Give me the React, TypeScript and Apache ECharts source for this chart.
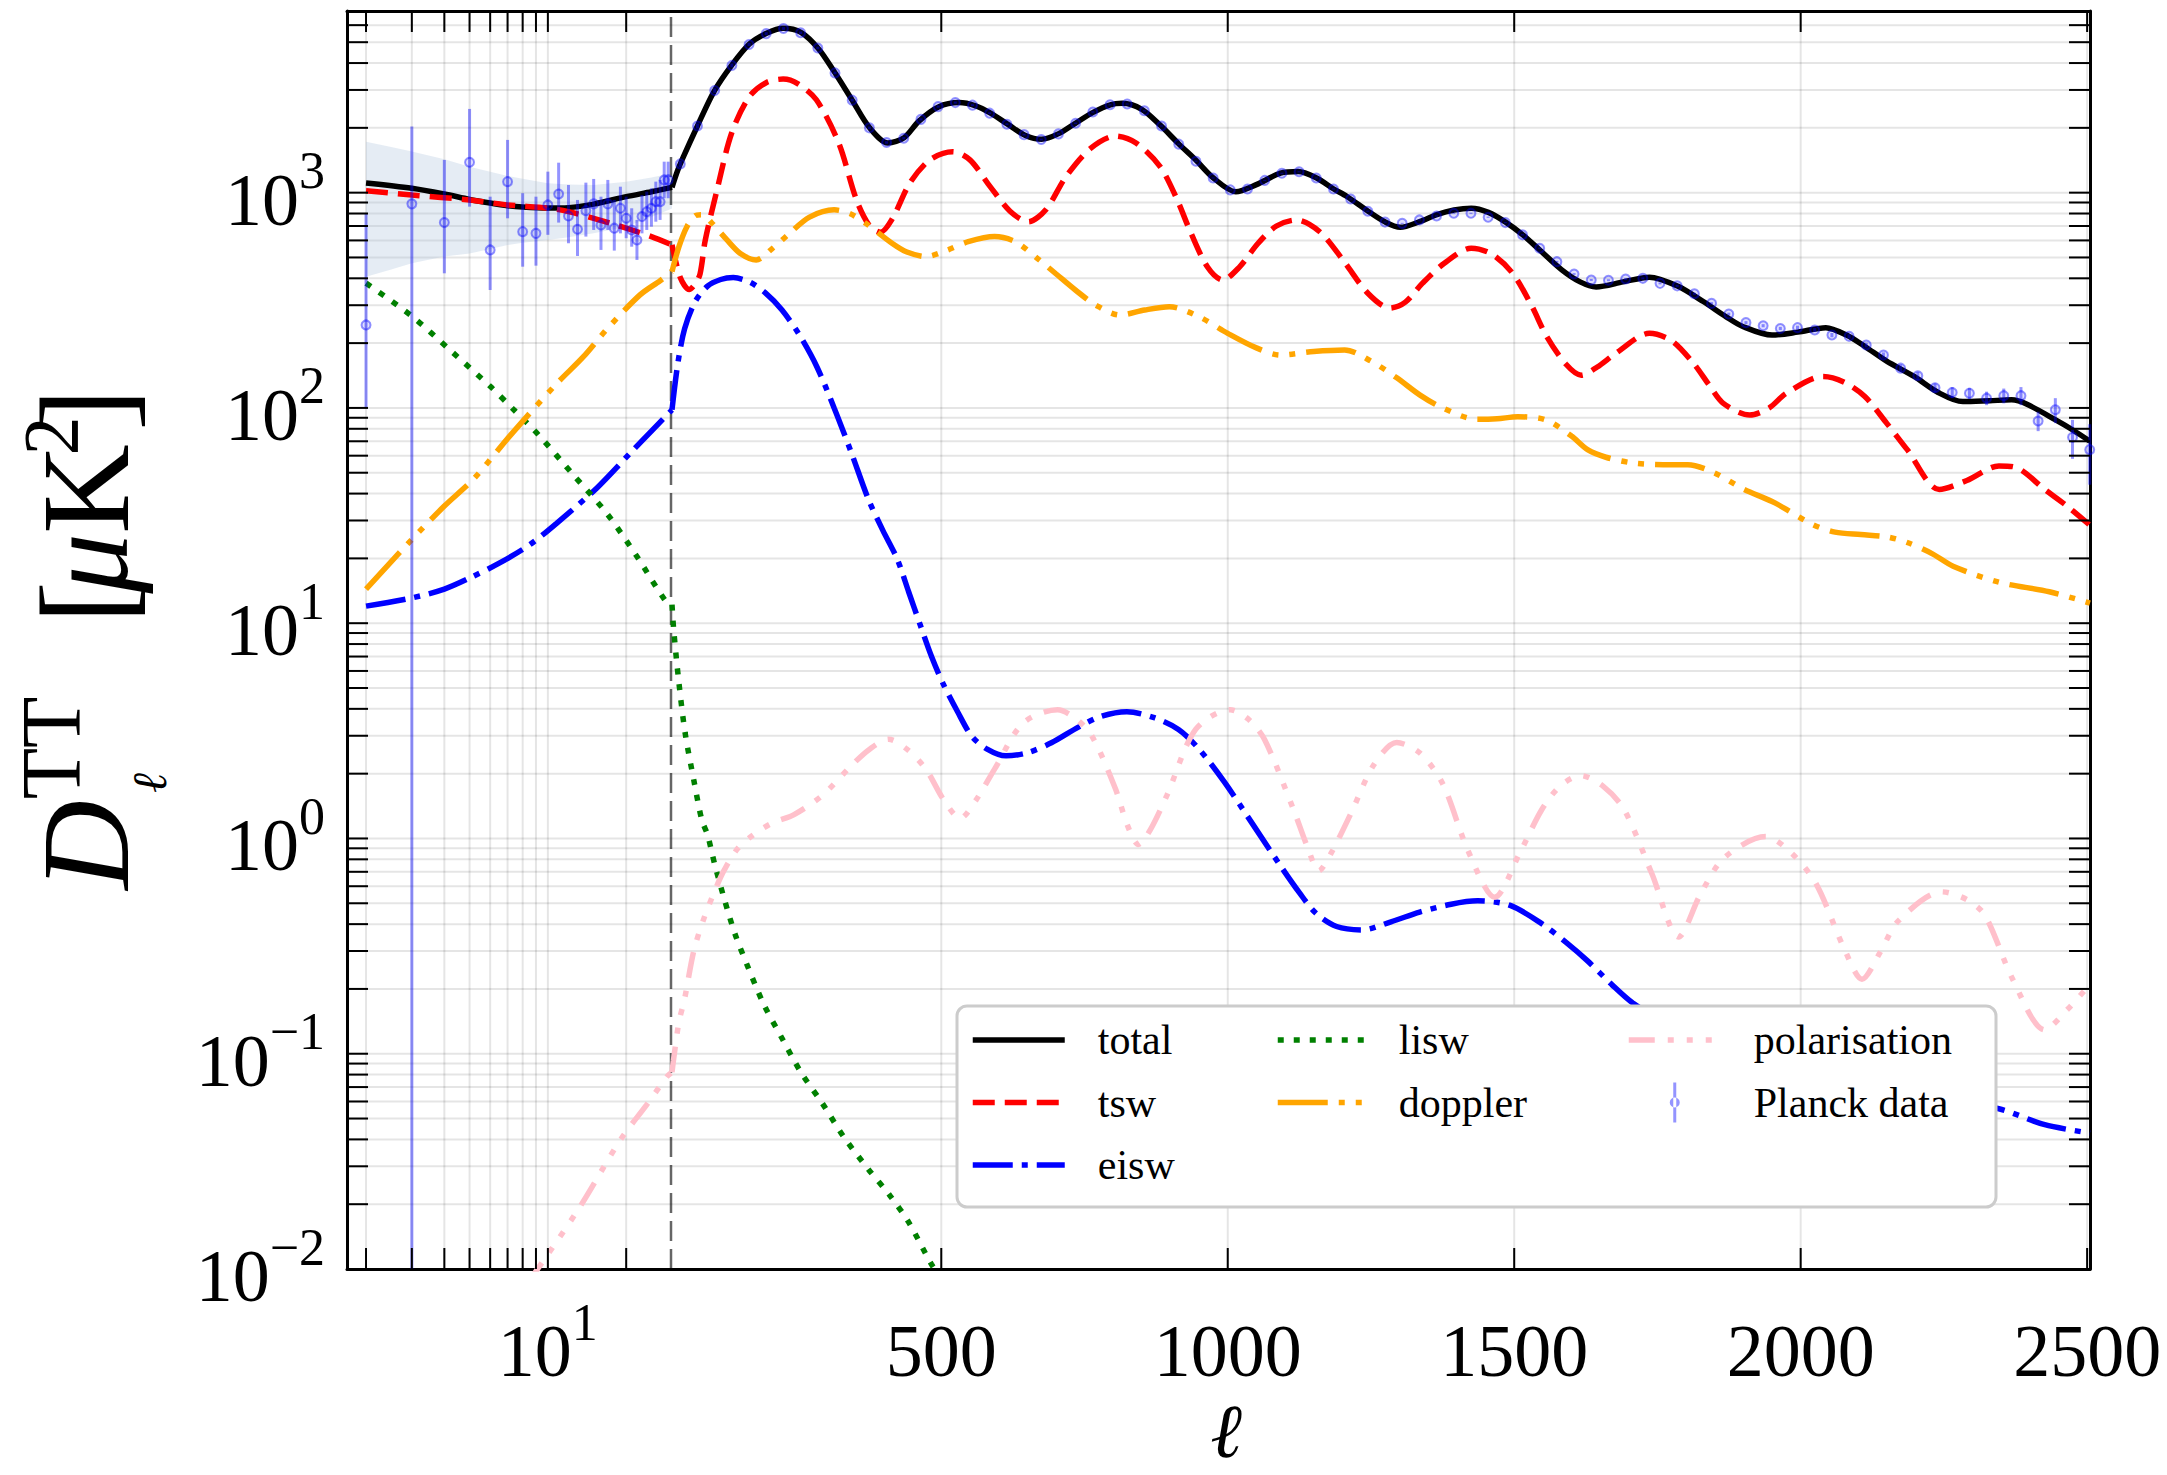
import React, { useEffect, useRef } from "react";
import * as echarts from "echarts";

type Pt = [number, number];

// axis ranges: log in ell below the split, linear above it
const ELL_MIN = 1.69;
const ELL_SPLIT = 30;
const ELL_MAX = 2505;
const D_MIN = 0.01;
const D_MAX = 6980;

// tick positions
const yDecades = [0.01, 0.1, 1, 10, 100, 1000];
const yMantissas = [2, 3, 4, 5, 6, 7, 8, 9];
const xLogTicks = [2, 3, 4, 5, 6, 7, 8, 9, 10, 20];
const xLinTicks = [500, 1000, 1500, 2000, 2500];

// model components, [ell, D_ell]
const total: Pt[] = [
  [2, 1110], [3, 1048], [4, 985], [5, 930], [6, 895], [7, 870], [8, 857], [10, 848], [12, 852], [15, 885], [20, 958], [25, 1010], [30, 1059],
  [40, 1270], [50, 1470], [74, 2030], [103, 2940], [134, 3900], [165, 4900], [195, 5500], [224, 5800], [255, 5550], [286, 4650],
  [313, 3650], [344, 2700], [375, 2000], [407, 1700], [435, 1800], [461, 2150], [495, 2500], [531, 2620], [560, 2530], [586, 2340],
  [617, 2070], [646, 1850], [675, 1770], [705, 1880], [734, 2100], [765, 2360], [795, 2560], [816, 2600], [850, 2440], [882, 2060],
  [914, 1690], [944, 1420], [975, 1170], [1014, 1010], [1050, 1090], [1092, 1231], [1123, 1253], [1155, 1170], [1185, 1040],
  [1208, 960], [1245, 820], [1275, 730], [1301, 690], [1335, 733], [1365, 790], [1395, 830], [1425, 846], [1455, 810], [1485, 730],
  [1515, 637], [1545, 540], [1583, 438], [1615, 385], [1643, 365], [1690, 385], [1736, 405], [1785, 368], [1830, 312], [1870, 265],
  [1899, 239], [1950, 218], [1995, 225], [2044, 236], [2080, 218], [2112, 193], [2150, 165], [2198, 140], [2240, 118], [2283, 107],
  [2330, 108], [2368, 109], [2395, 104], [2445, 88], [2475, 79], [2505, 70],
];

const tsw: Pt[] = [
  [2, 1021], [3, 975], [5, 925], [7, 877], [10, 848], [12, 816], [15, 760], [20, 684], [25, 625], [30, 572],
  [45, 400], [60, 355], [70, 375], [79, 420], [88, 600], [110, 1067], [134, 1888], [165, 2793], [195, 3250], [224, 3370],
  [250, 3200], [282, 2700], [321, 1700], [352, 925], [375, 700], [394, 655], [415, 760], [445, 1106], [480, 1420], [520, 1550],
  [550, 1420], [585, 1070], [620, 820], [652, 733], [682, 830], [718, 1190], [760, 1600], [804, 1832], [840, 1700], [882, 1320],
  [910, 950], [936, 647], [965, 450], [991, 393], [1020, 450], [1053, 582], [1085, 700], [1120, 747], [1160, 660], [1201, 487],
  [1245, 340], [1283, 291], [1310, 310], [1340, 380], [1378, 470], [1425, 552], [1460, 520], [1497, 423], [1530, 300], [1557, 214],
  [1590, 160], [1617, 142], [1645, 155], [1677, 179], [1736, 222], [1775, 205], [1813, 161], [1840, 128], [1865, 105], [1911, 92.6],
  [1945, 100], [1975, 117], [2039, 140], [2075, 132], [2112, 113], [2150, 85], [2186, 64], [2242, 41.8], [2290, 46], [2346, 53.8],
  [2375, 53], [2426, 41.8], [2465, 35], [2505, 28.5],
];

const eisw: Pt[] = [
  [2, 12.0], [3, 13.1], [4, 14.4], [5, 16.2], [6.5, 19], [8.5, 23.1], [10.8, 29.1], [15.4, 42.4], [20.7, 61.6], [25, 78], [30, 98],
  [40, 160], [52, 233], [70, 310], [92, 368], [115, 395], [137, 403], [165, 385], [192, 344], [222, 285], [253, 217], [283, 155],
  [313, 100], [343, 62], [373, 37.5], [398, 27], [423, 19.9], [443, 14], [463, 9.86], [483, 7], [503, 5.25], [528, 3.9], [553, 2.99],
  [580, 2.6], [613, 2.42], [650, 2.5], [693, 2.79], [740, 3.3], [780, 3.7], [824, 3.88], [870, 3.65], [914, 3.21], [950, 2.6],
  [994, 1.83], [1045, 1.15], [1094, 0.733], [1125, 0.56], [1154, 0.449], [1190, 0.39], [1234, 0.376], [1285, 0.41], [1335, 0.455],
  [1390, 0.495], [1436, 0.513], [1492, 0.49], [1548, 0.402], [1590, 0.33], [1628, 0.27], [1670, 0.21], [1707, 0.172], [1800, 0.12],
  [1900, 0.09], [2000, 0.075], [2100, 0.066], [2200, 0.061], [2280, 0.058], [2346, 0.0555], [2426, 0.0468], [2505, 0.0428],
];

const lisw: Pt[] = [
  [2, 380], [3, 267], [4.2, 186], [6, 126], [7.4, 98], [9.2, 75], [12.5, 49], [16.9, 32.2], [22, 20.4], [28.2, 12.8], [30, 12.2],
  [33, 9.3], [41.5, 5.46], [53, 3.08], [68, 1.87], [82, 1.22], [92, 1.04], [105, 0.75], [122, 0.515], [140, 0.36], [162, 0.255],
  [190, 0.17], [222, 0.118], [255, 0.082], [293, 0.0585], [330, 0.041], [373, 0.029], [410, 0.022], [443, 0.0165], [483, 0.0105],
  [500, 0.009],
];

const doppler: Pt[] = [
  [2, 14.4], [3, 24.5], [4, 35], [5.2, 47], [7.2, 75], [10.7, 128], [13.7, 173], [17, 235], [22.6, 335], [27, 390], [30, 430],
  [42, 560], [56, 695], [70, 780], [82, 790], [100, 720], [126, 603], [150, 520], [177, 487], [205, 550], [235, 647], [270, 770],
  [313, 832], [340, 800], [368, 721], [414, 582], [440, 530], [473, 505], [510, 540], [547, 592], [593, 625], [630, 590], [671, 487],
  [700, 420], [734, 353], [770, 300], [812, 270], [855, 285], [898, 295], [950, 265], [1000, 222], [1050, 190], [1092, 176],
  [1150, 183], [1204, 186], [1250, 165], [1295, 138], [1335, 115], [1375, 100], [1435, 88.5], [1470, 89], [1506, 91], [1555, 88],
  [1600, 74], [1628, 64], [1660, 59], [1707, 55.5], [1760, 54.5], [1803, 54.5], [1849, 50], [1900, 42], [1955, 36.2], [2019, 28.9],
  [2060, 26.5], [2105, 25.8], [2150, 25.2], [2186, 23.7], [2230, 21], [2266, 18.4], [2346, 15.5], [2434, 14], [2505, 12.4],
];

const polarisation: Pt[] = [
  [8.3, 0.0085], [9.9, 0.0115], [13.3, 0.0195], [19, 0.0398], [24, 0.058], [28.7, 0.0783], [30, 0.082],
  [32.5, 0.093], [42, 0.14], [52, 0.18], [68, 0.3], [85, 0.42], [108, 0.6], [122, 0.72], [145, 0.9], [172, 1.04], [205, 1.18],
  [243, 1.29], [293, 1.59], [343, 2.18], [375, 2.6], [408, 2.89], [440, 2.6], [473, 2.1], [505, 1.5], [533, 1.24], [560, 1.5],
  [593, 2.1], [643, 3.44], [703, 3.96], [735, 3.6], [763, 2.99], [804, 1.7], [825, 1.15], [844, 0.938], [865, 1.1], [894, 1.59],
  [944, 3.21], [1004, 3.96], [1035, 3.6], [1064, 2.89], [1114, 1.38], [1140, 0.9], [1159, 0.707], [1180, 0.85], [1214, 1.29],
  [1255, 2.2], [1295, 2.79], [1335, 2.5], [1375, 1.8], [1420, 0.87], [1466, 0.533], [1510, 0.86], [1548, 1.36], [1580, 1.75],
  [1616, 1.96], [1655, 1.75], [1692, 1.36], [1740, 0.689], [1787, 0.349], [1825, 0.55], [1867, 0.816], [1939, 1.02], [1985, 0.85],
  [2027, 0.615], [2075, 0.312], [2107, 0.222], [2140, 0.3], [2170, 0.413], [2246, 0.565], [2290, 0.52], [2322, 0.438], [2370, 0.222],
  [2426, 0.129], [2465, 0.16], [2505, 0.21],
];

// cosmic-variance band at low ell: [ell, lower, upper]
const band: [number, number, number][] = [
  [2, 407, 1725], [2.5, 440, 1630], [3, 470, 1551], [4, 505, 1430], [5, 522, 1321], [6, 548, 1250], [7, 571, 1196],
  [8, 585, 1160], [10, 603, 1106], [12, 620, 1090], [15, 647, 1086], [20, 695, 1125], [25, 770, 1175], [30, 845, 1231],
];

// Planck low-ell points with asymmetric errors (lower bound 0 = consistent with zero)
const planckLowEll = [2, 3, 4, 5, 6, 7, 8, 9, 10, 11, 12, 13, 14, 15, 16, 17, 18, 19, 20, 21, 22, 23, 24, 25, 26, 27, 28, 29];
const planckLowD = [243, 887, 726, 1384, 542, 1125, 659, 647, 877, 986, 779, 676, 825, 887, 708, 887, 684, 846, 760, 671, 603, 774, 816, 846, 908, 908, 1146, 1146];
const planckLowLo = [101, 0, 422, 861, 353, 760, 453, 458, 637, 726, 582, 508, 625, 671, 542, 671, 538, 647, 614, 561, 487, 647, 671, 695, 733, 747, 942, 942];
const planckLowHi = [802, 2027, 1419, 2449, 958, 1758, 994, 958, 1252, 1378, 1086, 925, 1113, 1158, 958, 1146, 925, 1066, 958, 846, 747, 975, 1011, 1048, 1125, 1146, 1393, 1393];

// Planck binned high-ell points with symmetric errors
const planckHighEll = [
  44.5, 74.5, 104.5, 134.5, 164.5, 194.5, 224.5, 254.5, 284.5, 314.5, 344.5, 374.5, 404.5, 434.5, 464.5, 494.5, 524.5, 554.5,
  584.5, 614.5, 644.5, 674.5, 704.5, 734.5, 764.5, 794.5, 824.5, 854.5, 884.5, 914.5, 944.5, 974.5, 1004.5, 1034.5, 1064.5,
  1094.5, 1124.5, 1154.5, 1184.5, 1214.5, 1244.5, 1274.5, 1304.5, 1334.5, 1364.5, 1394.5, 1424.5, 1454.5, 1484.5, 1514.5,
  1544.5, 1574.5, 1604.5, 1634.5, 1664.5, 1694.5, 1724.5, 1754.5, 1784.5, 1814.5, 1844.5, 1874.5, 1904.5, 1934.5, 1964.5,
  1994.5, 2024.5, 2054.5, 2084.5, 2114.5, 2144.5, 2174.5, 2204.5, 2234.5, 2264.5, 2294.5, 2324.5, 2354.5, 2384.5, 2414.5,
  2444.5, 2474.5, 2504.5,
];
const planckHighD = [
  1360, 2040, 2980, 3900, 4880, 5480, 5790, 5530, 4700, 3600,
  2690, 2000, 1710, 1790, 2190, 2510, 2620, 2550, 2340, 2080,
  1860, 1765, 1875, 2100, 2370, 2560, 2580, 2400, 2040, 1680,
  1400, 1170, 1030, 1040, 1140, 1230, 1250, 1170, 1040, 935,
  820, 730, 720, 747, 779, 802, 802, 769, 726, 637,
  552, 478, 419, 393, 392, 397, 400, 379, 369, 339,
  306, 273, 249, 241, 234, 236, 230, 218, 215, 196,
  176, 153, 141, 124, 118, 117, 111, 114, 114, 87,
  98, 73, 64,
];
const planckHighErr = [
  44, 55, 70, 80, 85, 85, 85, 75, 65, 50,
  38, 28, 22, 22, 25, 28, 28, 26, 22, 19,
  16, 15, 15, 16, 17, 17, 16, 14, 12, 10,
  8, 7, 6, 6, 6, 7, 7, 6, 6, 5,
  5, 4, 4, 4, 5, 5, 5, 5, 4, 4,
  4, 4, 4, 4, 4, 4, 4, 4, 4, 4,
  4, 4, 4, 4, 4, 5, 5, 5, 5, 5,
  5, 6, 6, 6, 7, 7, 8, 9, 11, 9,
  13, 15, 20,
];

const SERIF = '"Liberation Serif", "DejaVu Serif", serif';
const LW = 5.5;
const GRID_COLOR = "rgba(0,0,0,0.1)";
const TICK = 21;
const PLANCK = "rgba(0,0,255,0.42)";
const PLANCK_FILL = "rgba(0,0,255,0.12)";

const styles = {
  total: { color: "#000000", dash: "solid" as any },
  tsw: { color: "#ff0000", dash: [22, 10] },
  eisw: { color: "#0000ff", dash: [40, 9, 6, 9] },
  lisw: { color: "#008000", dash: [6, 10] },
  doppler: { color: "#ffa500", dash: [50, 11, 6, 11, 6, 11] },
  polarisation: { color: "#ffc0cb", dash: [26, 13, 6, 13, 6, 13, 6, 13] },
};

const rich = {
  b: { fontFamily: SERIF, fontSize: 74, color: "#000", lineHeight: 88, verticalAlign: "bottom" },
  s: { fontFamily: SERIF, fontSize: 52, color: "#000", lineHeight: 48, padding: [0, 0, 40, 0], verticalAlign: "bottom" },
};

function powLabel(v: number) {
  const e = Math.log10(v);
  const r = Math.round(e);
  if (Math.abs(e - r) > 1e-6) return "";
  const exp = r < 0 ? "\u2212" + -r : String(r);
  return `{b|10}{s|${exp}}`;
}

function linLabel(v: number) {
  return xLinTicks.indexOf(v) >= 0 ? `{b|${v}}` : "";
}

const yTicks: number[] = [];
yDecades.forEach((d) => {
  yTicks.push(d);
  yMantissas.forEach((m) => {
    const v = m * d;
    if (v < D_MAX) yTicks.push(v);
  });
});

function frameData(xTicks: number[], xLo: number) {
  return [...yTicks.map((v) => [xLo, v, 0]), ...xTicks.map((v) => [v, D_MIN, 1])];
}

function seg(a: number[], b: number[], stroke: string, lineWidth: number) {
  return { type: "line", shape: { x1: a[0], y1: a[1], x2: b[0], y2: b[1] }, style: { stroke, lineWidth }, silent: true };
}

const gridRender = (xLo: number, xHi: number) => (_p: any, api: any) => {
  if (api.value(2) === 0) {
    const v = api.value(1);
    return seg(api.coord([xLo, v]), api.coord([xHi, v]), GRID_COLOR, 2);
  }
  const v = api.value(0);
  return seg(api.coord([v, D_MIN]), api.coord([v, D_MAX]), GRID_COLOR, 2);
};

const tickRender = (xLo: number, xHi: number, side: "left" | "right") => (_p: any, api: any) => {
  if (api.value(2) === 0) {
    const v = api.value(1);
    if (side === "left") {
      const p = api.coord([xLo, v]);
      return seg(p, [p[0] + TICK, p[1]], "#000", 2);
    }
    const p = api.coord([xHi, v]);
    return seg([p[0] - TICK, p[1]], p, "#000", 2);
  }
  const v = api.value(0);
  const a = api.coord([v, D_MIN]);
  const b = api.coord([v, D_MAX]);
  return {
    type: "group",
    children: [seg(a, [a[0], a[1] - TICK], "#000", 2), seg(b, [b[0], b[1] + TICK], "#000", 2)],
  };
};

function lineSeries(name: string, data: Pt[], st: { color: string; dash: any }, grid: number) {
  const part = grid === 0 ? data.filter((p) => p[0] <= ELL_SPLIT) : data.filter((p) => p[0] >= ELL_SPLIT);
  return {
    type: "line",
    name,
    xAxisIndex: grid,
    yAxisIndex: grid,
    data: part,
    symbol: "none",
    showSymbol: false,
    smooth: 0.3,
    silent: true,
    z: 3,
    lineStyle: { color: st.color, width: LW, type: st.dash, cap: "butt" },
    itemStyle: { color: st.color },
  };
}

const planckRender = (_p: any, api: any) => {
  const x = api.value(0);
  const d = api.value(1);
  const lo = Math.max(api.value(2), D_MIN);
  const hi = api.value(3);
  const c = api.coord([x, d]);
  const a = api.coord([x, lo]);
  const b = api.coord([x, hi]);
  return {
    type: "group",
    children: [
      seg(a, b, PLANCK, 3),
      { type: "circle", shape: { cx: c[0], cy: c[1], r: 4.5 }, style: { fill: PLANCK_FILL, stroke: PLANCK, lineWidth: 2 } },
    ],
  };
};

const bandRender = (params: any, api: any) => {
  if (params.dataIndex !== 0) return null;
  const upper = band.map((p) => api.coord([p[0], p[2]]));
  const lower = band.map((p) => api.coord([p[0], p[1]])).reverse();
  return { type: "polygon", shape: { points: upper.concat(lower) }, style: { fill: "rgba(176,196,222,0.33)" }, silent: true };
};

const legendText = (pad: number) => ({
  fontFamily: SERIF,
  fontSize: 42,
  color: "#000",
  lineHeight: 42,
  padding: [0, 0, 0, pad],
});

const legendBase = {
  orient: "vertical",
  top: 1019,
  itemWidth: 92,
  itemHeight: 40,
  itemGap: 20.5,
  padding: 0,
  z: 8,
  selectedMode: false,
  itemStyle: { opacity: 0 },
  lineStyle: { width: LW },
};

function axisLineStyle() {
  return { show: true, onZero: false, lineStyle: { color: "#000", width: 3 } };
}

export default function App() {
  const ref = useRef<HTMLDivElement>(null);

  useEffect(() => {
    if (!ref.current) return;
    const chart = echarts.init(ref.current, undefined, { renderer: "svg" });

    const names: [string, Pt[], any][] = [
      ["total", total, styles.total],
      ["tsw", tsw, styles.tsw],
      ["eisw", eisw, styles.eisw],
      ["lisw", lisw, styles.lisw],
      ["doppler", doppler, styles.doppler],
      ["polarisation", polarisation, styles.polarisation],
    ];
    const curveSeries: any[] = [];
    names.forEach(([n, d, s]) => {
      curveSeries.push(lineSeries(n, d, s, 0));
      curveSeries.push(lineSeries(n, d, s, 1));
    });

    const planckLow = planckLowEll.map((l, i) => [l, planckLowD[i], planckLowLo[i], planckLowHi[i]]);
    const planckHigh = planckHighEll.map((l, i) => [l, planckHighD[i], planckHighD[i] - planckHighErr[i], planckHighD[i] + planckHighErr[i]]);

    const ellGlyph = "\u2113";

    const option: any = {
      animation: false,
      backgroundColor: "#ffffff",
      grid: [
        { left: 347, top: 11, width: 325, height: 1258 },
        { left: 672, top: 11, width: 1418, height: 1258 },
      ],
      xAxis: [
        {
          gridIndex: 0, type: "log", logBase: 10, min: ELL_MIN, max: ELL_SPLIT, position: "bottom",
          axisLine: axisLineStyle(), axisTick: { show: false }, splitLine: { show: false },
          axisLabel: { margin: 31, formatter: powLabel, rich, interval: 0 },
        },
        {
          gridIndex: 1, type: "value", min: ELL_SPLIT, max: ELL_MAX, position: "bottom",
          axisLine: axisLineStyle(), axisTick: { show: false }, splitLine: { show: false },
          axisLabel: { margin: 31, formatter: linLabel, rich, interval: 0 },
        },
        {
          gridIndex: 0, type: "log", logBase: 10, min: ELL_MIN, max: ELL_SPLIT, position: "top",
          axisLine: axisLineStyle(), axisTick: { show: false }, splitLine: { show: false }, axisLabel: { show: false },
        },
        {
          gridIndex: 1, type: "value", min: ELL_SPLIT, max: ELL_MAX, position: "top",
          axisLine: axisLineStyle(), axisTick: { show: false }, splitLine: { show: false }, axisLabel: { show: false },
        },
      ],
      yAxis: [
        {
          gridIndex: 0, type: "log", logBase: 10, min: D_MIN, max: D_MAX, position: "left",
          axisLine: axisLineStyle(), axisTick: { show: false }, splitLine: { show: false },
          axisLabel: { margin: 22, formatter: powLabel, rich, interval: 0, showMaxLabel: false },
        },
        {
          gridIndex: 1, type: "log", logBase: 10, min: D_MIN, max: D_MAX, position: "right",
          axisLine: axisLineStyle(), axisTick: { show: false }, splitLine: { show: false }, axisLabel: { show: false },
        },
      ],
      legend: [
        { ...legendBase, left: 970, data: ["total", "tsw", "eisw"], textStyle: legendText(28) },
        { ...legendBase, left: 1275, data: ["lisw", "doppler"], textStyle: legendText(24) },
        {
          ...legendBase,
          left: 1626,
          data: [
            "polarisation",
            {
              name: "Planck data",
              icon: "path://M4.5 0H7.5V40H4.5Z M1 20A5 5 0 1 0 11 20A5 5 0 1 0 1 20Z",
              itemStyle: { color: PLANCK, opacity: 1 },
            },
          ],
          textStyle: legendText(28),
        },
      ],
      graphic: [
        {
          type: "rect",
          z: 6,
          silent: true,
          shape: { x: 957, y: 1006, width: 1039, height: 201, r: 10 },
          style: { fill: "#ffffff", stroke: "#cccccc", lineWidth: 3 },
        },
        {
          type: "text",
          z: 6,
          x: 1226,
          y: 1430,
          style: {
            text: ellGlyph, fontSize: 76, lineHeight: 76, fontFamily: '"DejaVu Serif", serif', fontStyle: "italic",
            fill: "#000", align: "center", verticalAlign: "middle", textAlign: "center", textVerticalAlign: "middle",
          },
        },
        {
          type: "group",
          x: 0,
          y: 0,
          rotation: Math.PI / 2,
          children: [
            ["D", 86, 845, 124, "italic"],
            ["TT", 51.5, 748, 84, "normal"],
            [ellGlyph, 149, 783, 48, "italic"],
            ["[", 84.5, 602.5, 128, "normal"],
            ["\u03bc", 86, 563.5, 120, "italic"],
            ["K", 86, 489, 124, "normal"],
            ["2", 50.5, 436, 78, "normal"],
            ["]", 84.5, 409.5, 128, "normal"],
          ].map(([t, sx, sy, fs, fst]: any) => ({
            type: "text",
            x: -sy,
            y: sx,
            style: {
              text: t, fontSize: fs, fontFamily: SERIF, fontStyle: fst, fill: "#000",
              align: "center", verticalAlign: "middle", textAlign: "center", textVerticalAlign: "middle",
            },
          })),
        },
      ],
      series: [
        {
          type: "custom", name: "gridlines-low", xAxisIndex: 0, yAxisIndex: 0, z: 1, silent: true,
          data: frameData(xLogTicks, ELL_MIN), encode: { x: 0, y: 1 }, renderItem: gridRender(ELL_MIN, ELL_SPLIT),
        },
        {
          type: "custom", name: "gridlines-high", xAxisIndex: 1, yAxisIndex: 1, z: 1, silent: true,
          data: frameData(xLinTicks, ELL_SPLIT), encode: { x: 0, y: 1 }, renderItem: gridRender(ELL_SPLIT, ELL_MAX),
        },
        {
          type: "custom", name: "cosmic variance", xAxisIndex: 0, yAxisIndex: 0, z: 2, silent: true,
          data: band, encode: { x: 0, y: 1 }, renderItem: bandRender,
        },
        {
          type: "custom", name: "split", xAxisIndex: 1, yAxisIndex: 1, z: 2, silent: true,
          data: [[ELL_SPLIT, D_MIN]], encode: { x: 0, y: 1 },
          renderItem: (_p: any, api: any) => {
            const a = api.coord([ELL_SPLIT, D_MIN]);
            const b = api.coord([ELL_SPLIT, D_MAX]);
            return {
              type: "line",
              shape: { x1: a[0] - 1, y1: a[1], x2: b[0] - 1, y2: b[1] },
              style: { stroke: "rgba(0,0,0,0.6)", lineWidth: 2.5, lineDash: [20, 8] },
            };
          },
        },
        ...curveSeries,
        {
          type: "custom", name: "Planck data", xAxisIndex: 0, yAxisIndex: 0, z: 4, silent: true,
          itemStyle: { color: PLANCK }, data: planckLow, encode: { x: 0, y: 1 }, renderItem: planckRender,
        },
        {
          type: "custom", name: "Planck data", xAxisIndex: 1, yAxisIndex: 1, z: 4, silent: true,
          itemStyle: { color: PLANCK }, data: planckHigh, encode: { x: 0, y: 1 }, renderItem: planckRender,
        },
        {
          type: "custom", name: "ticks-low", xAxisIndex: 0, yAxisIndex: 0, z: 5, silent: true,
          data: frameData(xLogTicks, ELL_MIN), encode: { x: 0, y: 1 }, renderItem: tickRender(ELL_MIN, ELL_SPLIT, "left"),
        },
        {
          type: "custom", name: "ticks-high", xAxisIndex: 1, yAxisIndex: 1, z: 5, silent: true,
          data: frameData(xLinTicks, ELL_SPLIT), encode: { x: 0, y: 1 }, renderItem: tickRender(ELL_SPLIT, ELL_MAX, "right"),
        },
      ],
    };

    chart.setOption(option);
    return () => chart.dispose();
  }, []);

  return (
    <div
      ref={ref}
      style={{ position: "absolute", left: 0, top: 0, width: 2167, height: 1475, background: "#fff" }}
    />
  );
}
